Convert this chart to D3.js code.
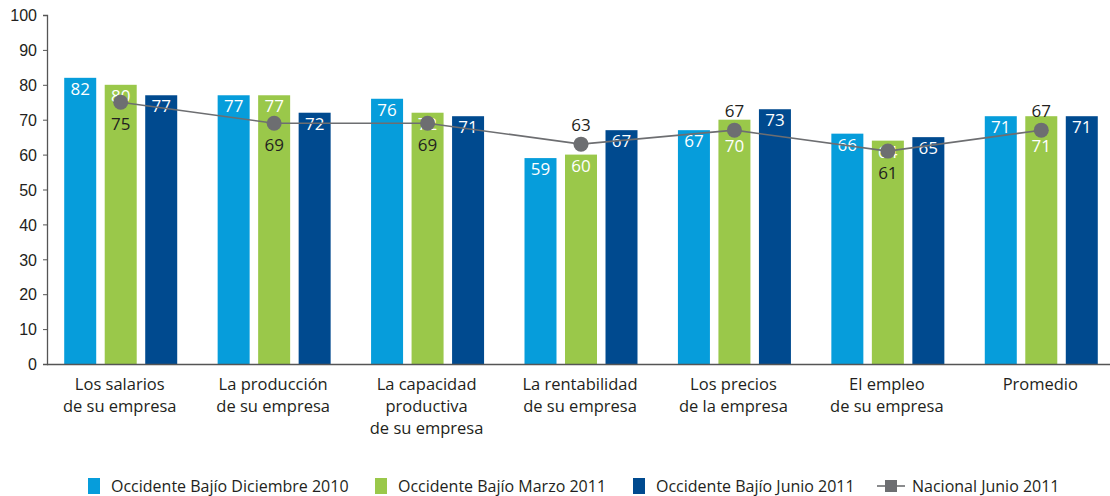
<!DOCTYPE html>
<html>
<head>
<meta charset="utf-8">
<script src="https://cdn.jsdelivr.net/npm/d3@7"></script>
<style>
  body { margin: 0; background: #fff; }
  svg { display: block; font-family: "Open Sans", "Noto Sans", sans-serif; }
</style>
</head>
<body>
<svg id="chart" width="1110" height="496"></svg>
<script>
// categorias (lineas separadas por \n)
var categories = [
    "Los salarios\nde su empresa",
    "La producción\nde su empresa",
    "La capacidad\nproductiva\nde su empresa",
    "La rentabilidad\nde su empresa",
    "Los precios\nde la empresa",
    "El empleo\nde su empresa",
    "Promedio"
];
var seriesNames = ["Occidente Bajío Diciembre 2010", "Occidente Bajío Marzo 2011", "Occidente Bajío Junio 2011"];
var dic2010 = [82, 77, 76, 59, 67, 66, 71];
var mar2011 = [80, 77, 72, 60, 70, 64, 71];
var jun2011 = [77, 72, 71, 67, 73, 65, 71];
var nacionalName = "Nacional Junio 2011";
var nacional = [75, 69, 69, 63, 67, 61, 67];
var nacionalLabelAbove = [false, false, false, true, true, false, true];
var yTicks = [0, 10, 20, 30, 40, 50, 60, 70, 80, 90, 100];

var colors = ["#069ddb", "#9ac84a", "#004a8f"];
var grey = "#6d6e71";
var textColor = "#231f20";

var svg = d3.select("#chart");
var barData = [dic2010, mar2011, jun2011];

var x = d3.scaleBand()
    .domain(categories)
    .range([44, 1118])
    .padding(0);

var xInner = d3.scaleBand()
    .domain(d3.range(3))
    .range([0, 113])
    .paddingInner(0.21);
var innerOffset = (x.bandwidth() - 113) / 2;

var y = d3.scaleLinear()
    .domain([0, 100])
    .range([364, 15]);

// eje y
var yAxis = svg.append("g")
    .attr("transform", "translate(47,0)")
    .call(d3.axisLeft(y).tickValues(yTicks).tickSize(4).tickPadding(6));
yAxis.select(".domain").attr("stroke", "#555").attr("stroke-width", 1.3);
yAxis.selectAll(".tick line").attr("stroke", "#555");
yAxis.selectAll("text")
    .attr("fill", textColor)
    .style("font-size", "16px")
    .attr("dy", "0.36em");

// barras
var groups = svg.append("g")
    .selectAll("g")
    .data(categories)
    .enter().append("g")
    .attr("transform", function(d) { return "translate(" + (x(d) + innerOffset) + ",0)"; });

function cells(d, i) {
    return barData.map(function(s, k) { return {k: k, v: s[i], i: i}; });
}

groups.selectAll("rect")
    .data(cells)
    .enter().append("rect")
    .attr("x", function(d) { return xInner(d.k); })
    .attr("y", function(d) { return y(d.v); })
    .attr("width", xInner.bandwidth())
    .attr("height", function(d) { return y(0) - y(d.v); })
    .attr("fill", function(d) { return colors[d.k]; });

// etiqueta dentro de la barra; la verde baja si el punto nacional la tapa
function valueY(d) {
    var top = y(d.v) + 17;
    if (d.k === 1 && nacionalLabelAbove[d.i]) {
        var dotY = y(nacional[d.i]);
        if (dotY > y(d.v) - 4) top = Math.max(top, dotY + 22);
    }
    return top;
}

groups.selectAll("text.val")
    .data(cells)
    .enter().append("text")
    .attr("class", "val")
    .attr("x", function(d) { return xInner(d.k) + xInner.bandwidth() / 2; })
    .attr("y", valueY)
    .attr("text-anchor", "middle")
    .attr("fill", "#fff")
    .style("font-size", "17px")
    .text(function(d) { return d.v; });

// eje x
svg.append("line")
    .attr("x1", 47).attr("x2", 1110)
    .attr("y1", y(0) + 0.5).attr("y2", y(0) + 0.5)
    .attr("stroke", "#555").attr("stroke-width", 1.3);

var catLabels = svg.append("g")
    .selectAll("text")
    .data(categories)
    .enter().append("text")
    .attr("text-anchor", "middle")
    .attr("fill", textColor)
    .style("font-size", "16.5px")
    .attr("transform", function(d) { return "translate(" + (x(d) + x.bandwidth() / 2 - 1) + ",390)"; });

catLabels.selectAll("tspan")
    .data(function(d) { return d.split("\n"); })
    .enter().append("tspan")
    .attr("x", 0)
    .attr("y", function(d, i) { return i * 22; })
    .text(function(d) { return d; });

// linea nacional
var cx = function(i) { return x(categories[i]) + innerOffset + xInner(1) + xInner.bandwidth() / 2; };

var line = d3.line()
    .x(function(d, i) { return cx(i); })
    .y(function(d) { return y(d); });

svg.append("path")
    .datum(nacional)
    .attr("d", line)
    .attr("fill", "none")
    .attr("stroke", grey)
    .attr("stroke-width", 1.6);

svg.append("g").selectAll("circle")
    .data(nacional)
    .enter().append("circle")
    .attr("cx", function(d, i) { return cx(i); })
    .attr("cy", function(d) { return y(d); })
    .attr("r", 7.5)
    .attr("fill", grey);

svg.append("g").selectAll("text")
    .data(nacional)
    .enter().append("text")
    .attr("x", function(d, i) { return cx(i); })
    .attr("y", function(d, i) { return nacionalLabelAbove[i] ? y(d) - 13 : y(d) + 28; })
    .attr("text-anchor", "middle")
    .attr("fill", textColor)
    .style("font-size", "17px")
    .text(function(d) { return d; });

// leyenda
var legendX = [88, 375, 633];
var legend = svg.append("g").attr("transform", "translate(0,486)");
seriesNames.forEach(function(name, k) {
    legend.append("rect")
        .attr("x", legendX[k]).attr("y", -8)
        .attr("width", 12).attr("height", 16)
        .attr("fill", colors[k]);
    legend.append("text")
        .attr("x", legendX[k] + 23).attr("y", 0)
        .attr("dy", "0.35em")
        .attr("fill", textColor)
        .style("font-size", "16px")
        .text(name);
});
legend.append("line")
    .attr("x1", 877).attr("x2", 905)
    .attr("y1", 0).attr("y2", 0)
    .attr("stroke", grey).attr("stroke-width", 1.6);
legend.append("rect")
    .attr("x", 885).attr("y", -6)
    .attr("width", 12).attr("height", 12)
    .attr("fill", grey);
legend.append("text")
    .attr("x", 912).attr("y", 0)
    .attr("dy", "0.35em")
    .attr("fill", textColor)
    .style("font-size", "16px")
    .text(nacionalName);
</script>
</body>
</html>
